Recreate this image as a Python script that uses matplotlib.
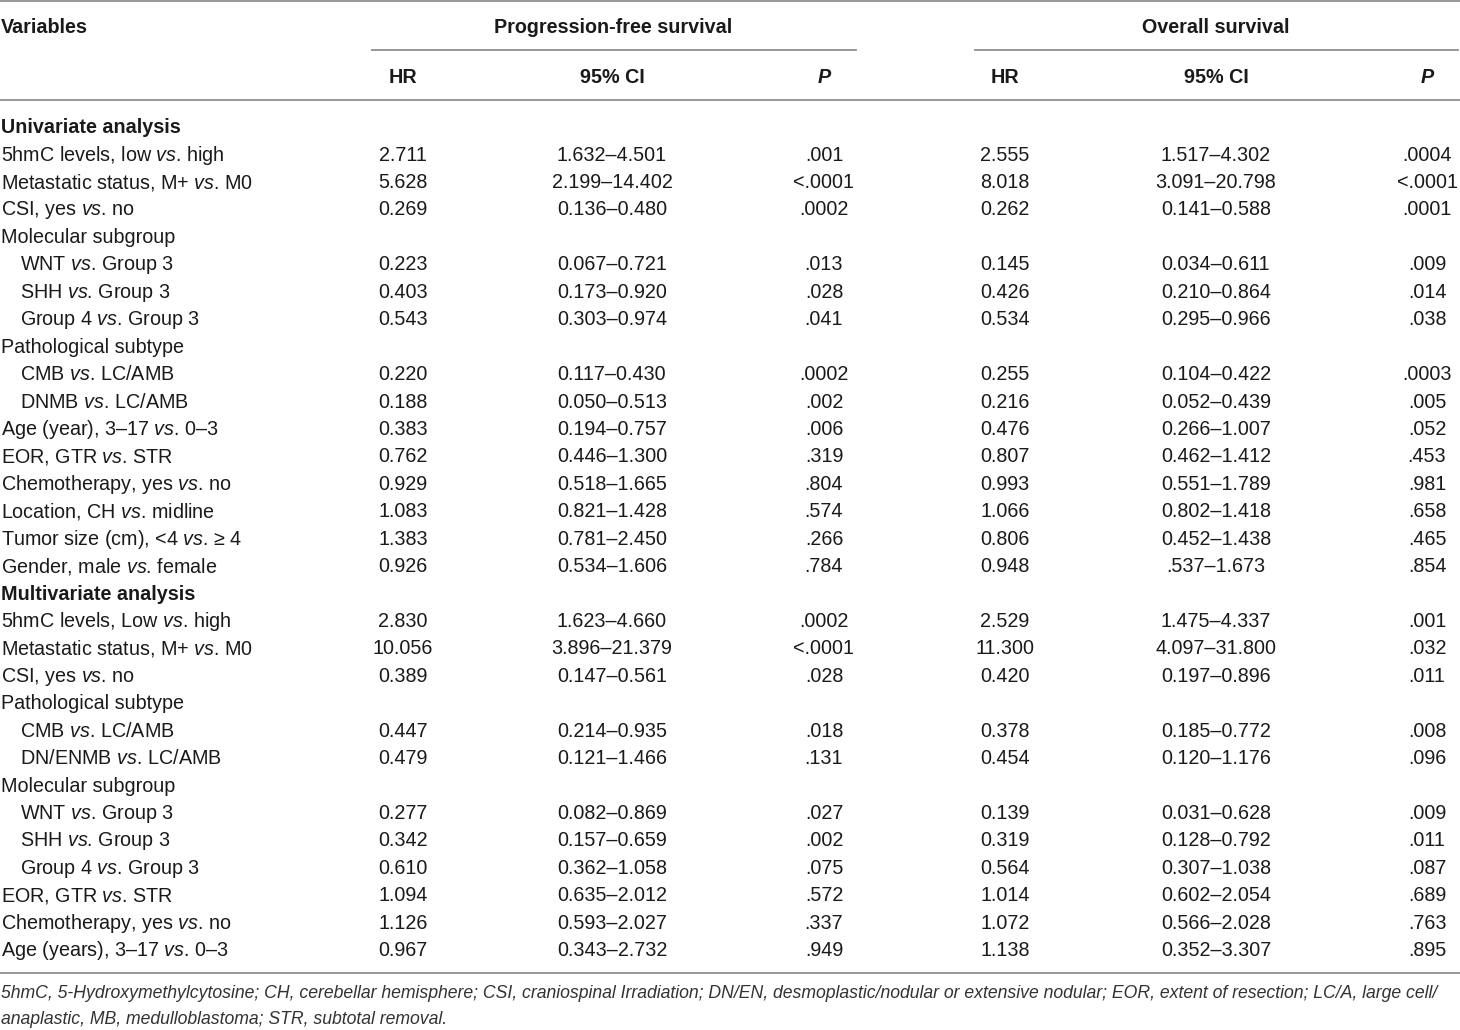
import matplotlib
matplotlib.use("Agg")
import matplotlib.pyplot as plt

plt.rcParams['font.family'] = ['Liberation Sans', 'DejaVu Sans']
plt.rcParams['mathtext.fontset'] = 'custom'
plt.rcParams['mathtext.rm'] = 'Liberation Sans'
plt.rcParams['mathtext.it'] = 'Liberation Sans:italic'
plt.rcParams['mathtext.bf'] = 'Liberation Sans:bold'

# ---------------- data ----------------
labels = [
    "Univariate analysis",
    "5hmC levels, low vs. high",
    "Metastatic status, M+ vs. M0",
    "CSI, yes vs. no",
    "Molecular subgroup",
    "WNT vs. Group 3",
    "SHH vs. Group 3",
    "Group 4 vs. Group 3",
    "Pathological subtype",
    "CMB vs. LC/AMB",
    "DNMB vs. LC/AMB",
    "Age (year), 3–17 vs. 0–3",
    "EOR, GTR vs. STR",
    "Chemotherapy, yes vs. no",
    "Location, CH vs. midline",
    "Tumor size (cm), <4 vs. ≥ 4",
    "Gender, male vs. female",
    "Multivariate analysis",
    "5hmC levels, Low vs. high",
    "Metastatic status, M+ vs. M0",
    "CSI, yes vs. no",
    "Pathological subtype",
    "CMB vs. LC/AMB",
    "DN/ENMB vs. LC/AMB",
    "Molecular subgroup",
    "WNT vs. Group 3",
    "SHH vs. Group 3",
    "Group 4 vs. Group 3",
    "EOR, GTR vs. STR",
    "Chemotherapy, yes vs. no",
    "Age (years), 3–17 vs. 0–3",
]
section_rows = [0, 17]
indented_rows = [5, 6, 7, 9, 10, 22, 23, 25, 26, 27]

pfs_hr = ["", "2.711", "5.628", "0.269", "", "0.223", "0.403", "0.543", "", "0.220", "0.188",
          "0.383", "0.762", "0.929", "1.083", "1.383", "0.926",
          "", "2.830", "10.056", "0.389", "", "0.447", "0.479", "", "0.277", "0.342", "0.610",
          "1.094", "1.126", "0.967"]
pfs_ci = ["", "1.632–4.501", "2.199–14.402", "0.136–0.480", "", "0.067–0.721", "0.173–0.920",
          "0.303–0.974", "", "0.117–0.430", "0.050–0.513", "0.194–0.757", "0.446–1.300",
          "0.518–1.665", "0.821–1.428", "0.781–2.450", "0.534–1.606",
          "", "1.623–4.660", "3.896–21.379", "0.147–0.561", "", "0.214–0.935", "0.121–1.466",
          "", "0.082–0.869", "0.157–0.659", "0.362–1.058", "0.635–2.012", "0.593–2.027",
          "0.343–2.732"]
pfs_p = ["", ".001", "<.0001", ".0002", "", ".013", ".028", ".041", "", ".0002", ".002",
         ".006", ".319", ".804", ".574", ".266", ".784",
         "", ".0002", "<.0001", ".028", "", ".018", ".131", "", ".027", ".002", ".075",
         ".572", ".337", ".949"]
os_hr = ["", "2.555", "8.018", "0.262", "", "0.145", "0.426", "0.534", "", "0.255", "0.216",
         "0.476", "0.807", "0.993", "1.066", "0.806", "0.948",
         "", "2.529", "11.300", "0.420", "", "0.378", "0.454", "", "0.139", "0.319", "0.564",
         "1.014", "1.072", "1.138"]
os_ci = ["", "1.517–4.302", "3.091–20.798", "0.141–0.588", "", "0.034–0.611", "0.210–0.864",
         "0.295–0.966", "", "0.104–0.422", "0.052–0.439", "0.266–1.007", "0.462–1.412",
         "0.551–1.789", "0.802–1.418", "0.452–1.438", ".537–1.673",
         "", "1.475–4.337", "4.097–31.800", "0.197–0.896", "", "0.185–0.772", "0.120–1.176",
         "", "0.031–0.628", "0.128–0.792", "0.307–1.038", "0.602–2.054", "0.566–2.028",
         "0.352–3.307"]
os_p = ["", ".0004", "<.0001", ".0001", "", ".009", ".014", ".038", "", ".0003", ".005",
        ".052", ".453", ".981", ".658", ".465", ".854",
        "", ".001", ".032", ".011", "", ".008", ".096", "", ".009", ".011", ".087",
        ".689", ".763", ".895"]

col_header = "Variables"
group_headers = ["Progression-free survival", "Overall survival"]
sub_headers = ["HR", "95% CI", "P"]
footnote = ["5hmC, 5-Hydroxymethylcytosine; CH, cerebellar hemisphere; CSI, craniospinal Irradiation; "
            "DN/EN, desmoplastic/nodular or extensive nodular; EOR, extent of resection; LC/A, large cell/",
            "anaplastic, MB, medulloblastoma; STR, subtotal removal."]

# ---------------- layout ----------------
W, H = 1460, 1030
fig = plt.figure(figsize=(W / 100, H / 100), dpi=100)
ax = fig.add_axes([0, 0, 1, 1])
ax.set_xlim(0, W)
ax.set_ylim(H, 0)
ax.axis('off')

FS = 14.2
LINE_C = '#8f8f8f'
TXT_C = '#1a1a1a'

col_x = [403, 612, 824, 1005, 1216, 1427]
group_x = [613, 1216]
group_span = [(372, 856), (975, 1458)]

# rules
ax.plot([0, W], [1, 1], color=LINE_C, lw=1.3)
for (a, b) in group_span:
    ax.plot([a, b], [50, 50], color=LINE_C, lw=1.3)
ax.plot([0, W], [100, 100], color=LINE_C, lw=1.3)
ax.plot([0, W], [973, 973], color=LINE_C, lw=1.3)

# headers
ax.text(1, 33, col_header, fontsize=FS, fontweight='bold', va='baseline', ha='left', color=TXT_C)
for gx, gh in zip(group_x, group_headers):
    ax.text(gx, 33, gh, fontsize=FS, fontweight='bold', va='baseline', ha='center', color=TXT_C)
for i, x in enumerate(col_x):
    sh = sub_headers[i % 3]
    ax.text(x, 83, sh, fontsize=FS, fontweight='bold', va='baseline', ha='center', color=TXT_C,
            fontstyle='italic' if sh == 'P' else 'normal')

# body
y0, dy = 133.2, 27.43


def fmt_label(s):
    return s.replace(" vs. ", r" $\mathit{vs}$. ")


for r, lab in enumerate(labels):
    y = y0 + r * dy
    if r in section_rows:
        ax.text(1, y, lab, fontsize=FS, fontweight='bold', va='baseline', ha='left', color=TXT_C)
        continue
    xl = 20 if r in indented_rows else 1
    ax.text(xl, y, fmt_label(lab), fontsize=FS, va='baseline', ha='left', color=TXT_C)
    vals = [pfs_hr[r], pfs_ci[r], pfs_p[r], os_hr[r], os_ci[r], os_p[r]]
    for x, v in zip(col_x, vals):
        if v:
            ax.text(x, y, v, fontsize=FS, va='baseline', ha='center', color=TXT_C)

# footnote
for i, line in enumerate(footnote):
    ax.text(1, 998.5 + i * 25.5, line, fontsize=12.72, fontstyle='italic', va='baseline', ha='left',
            color='#333333')

fig.savefig("out.png", dpi=100)
